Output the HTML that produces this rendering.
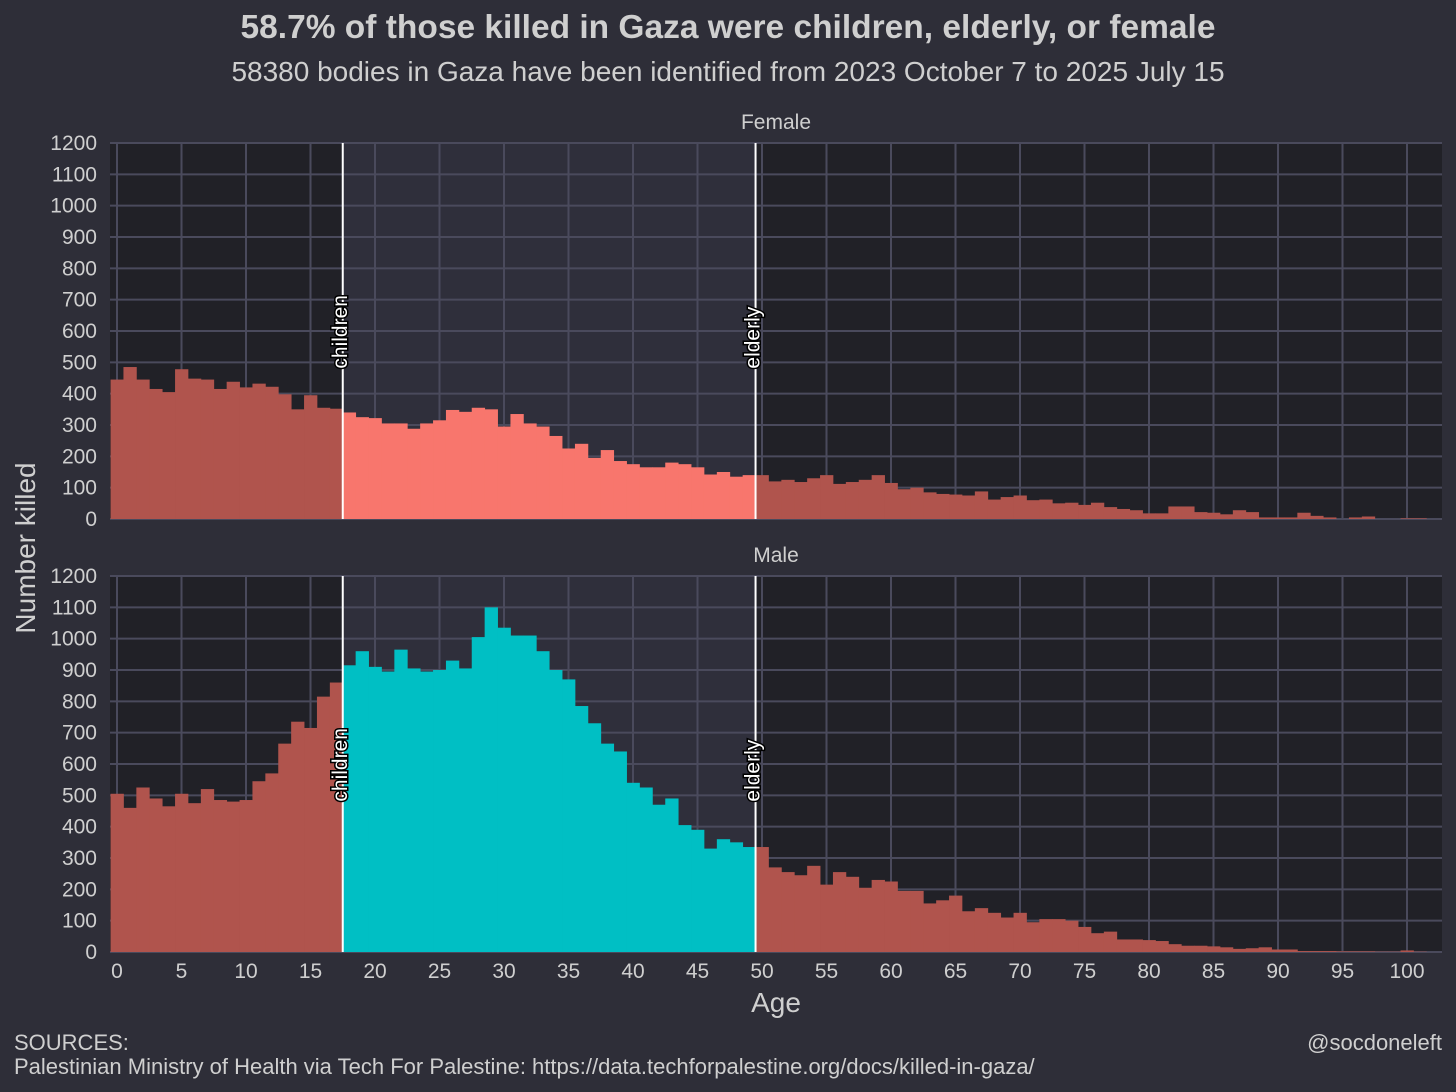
<!DOCTYPE html>
<html><head><meta charset="utf-8"><style>
body{margin:0;background:#2e2e38;}
svg{display:block;font-family:"Liberation Sans",Arial,sans-serif;}
</style></head><body>
<svg id="chart" width="1456" height="1092">
<rect width="1456" height="1092" fill="#2e2e38"/>
<text x="728" y="38" text-anchor="middle" font-size="33.5" font-weight="bold" fill="#cfcfcf">58.7% of those killed in Gaza were children, elderly, or female</text>
<text x="728" y="81" text-anchor="middle" font-size="28" fill="#cfcfcf">58380 bodies in Gaza have been identified from 2023 October 7 to 2025 July 15</text>
<text transform="translate(35,548) rotate(-90)" text-anchor="middle" font-size="28" fill="#cfcfcf">Number killed</text>
<text x="776" y="1012" text-anchor="middle" font-size="28" fill="#cfcfcf">Age</text>
<text x="14" y="1050" font-size="22" fill="#cfcfcf">SOURCES:</text>
<text x="14" y="1074" font-size="22" fill="#cfcfcf">Palestinian Ministry of Health via Tech For Palestine: https://data.techforpalestine.org/docs/killed-in-gaza/</text>
<text x="1442" y="1050" text-anchor="end" font-size="22" fill="#cfcfcf">@socdoneleft</text>
<g id="plots"></g>
</svg>
<script>
const ages = Array.from({length:102},(_,i)=>i);
const female = [445,485,445,415,405,478,448,445,415,438,420,432,422,398,350,395,355,352,340,325,322,305,305,288,305,315,348,342,355,350,295,335,305,295,265,225,240,195,220,185,175,165,165,180,175,165,142,150,135,140,140,120,125,118,130,140,112,118,125,140,115,95,100,85,80,78,75,88,62,70,75,60,62,50,52,45,52,38,32,28,18,18,40,40,22,20,15,28,22,5,5,5,20,10,5,0,5,8,0,0,2,2];
const male = [505,460,525,490,465,505,475,520,485,480,485,545,570,665,735,715,815,860,915,960,910,895,965,905,895,900,930,905,1005,1100,1035,1010,1010,960,900,870,785,730,665,640,540,525,470,490,405,390,330,360,350,335,335,270,255,245,275,215,255,240,205,230,225,195,195,155,165,180,130,140,125,110,125,95,105,105,100,80,60,65,40,40,38,35,25,20,20,18,15,10,12,15,8,8,3,3,3,2,2,2,1,1,5,1];
const yTicks = [0,100,200,300,400,500,600,700,800,900,1000,1100,1200];
const xTicks = [0,5,10,15,20,25,30,35,40,45,50,55,60,65,70,75,80,85,90,95,100];
const childCut = 17.5, elderCut = 49.5;

const NS="http://www.w3.org/2000/svg";
const root=document.getElementById('plots');
const X0=117, XS=12.9, XL=110, XR=1442;
const xs=a=>X0+a*XS;
function mk(tag,attrs,parent){const e=document.createElementNS(NS,tag);for(const k in attrs)e.setAttribute(k,attrs[k]);parent.appendChild(e);return e;}

function panel(name,data,color,top,bottom){
  const ys=v=>bottom-(v/1200)*(bottom-top);
  const g=mk('g',{},root);
  
  
  const b1=mk('rect',{x:XL,y:top,width:xs(childCut)-XL,height:bottom-top,fill:'#212127'},g);
  
  
  const b2=mk('rect',{x:xs(childCut),y:top,width:xs(elderCut)-xs(childCut),height:bottom-top,fill:'#2f2f3b'},g);
  
  
  const b3=mk('rect',{x:xs(elderCut),y:top,width:XR-xs(elderCut),height:bottom-top,fill:'#212127'},g);
  
  
  yTicks.forEach(t=>{
    const l=mk('line',{x1:XL,x2:XR,y1:ys(t),y2:ys(t),stroke:'#4a4a5c','stroke-width':2},g);
    
    
    const tx=mk('text',{x:97,y:ys(t)+7,'text-anchor':'end','font-size':21,fill:'#cfcfcf'},g);
    tx.textContent=t;
    
    
  });
  xTicks.forEach(t=>{
    const l=mk('line',{x1:xs(t),x2:xs(t),y1:top,y2:bottom,stroke:'#4a4a5c','stroke-width':2},g);
    
    
  });
  ages.forEach((a,i)=>{
    const v=data[i]; if(!v) return;
    const mid=a>childCut&&a<elderCut;
    const r=mk('rect',{x:xs(a-0.5),y:ys(v),width:XS+0.4,height:bottom-ys(v),fill:mid?color:'#b0544d'},g);
    
    
  });
  [[childCut,'children'],[elderCut,'elderly']].forEach(([c,lab])=>{
    const l=mk('line',{x1:xs(c),x2:xs(c),y1:top,y2:bottom,stroke:'#ffffff','stroke-width':2},g);
    
    
    const t=mk('text',{transform:`translate(${xs(c)+4},${ys(480)}) rotate(-90)`,'font-size':21,fill:'#ffffff',stroke:'#000','stroke-width':3,'paint-order':'stroke'},g);
    t.textContent=lab;
    
    
  });
  const s=mk('text',{x:776,y:top-14,'text-anchor':'middle','font-size':21,fill:'#cfcfcf'},g);
  s.textContent=name==='female'?'Female':'Male';
  
  
}
panel('female',female,'#f8766d',143,519);
panel('male',male,'#00bfc4',576,952);
const gx=mk('g',{},root);


xTicks.forEach(t=>{
  const tx=mk('text',{x:xs(t),y:978,'text-anchor':'middle','font-size':21,fill:'#cfcfcf'},gx);
  tx.textContent=t;
  
  
});
</script>
</body></html>
